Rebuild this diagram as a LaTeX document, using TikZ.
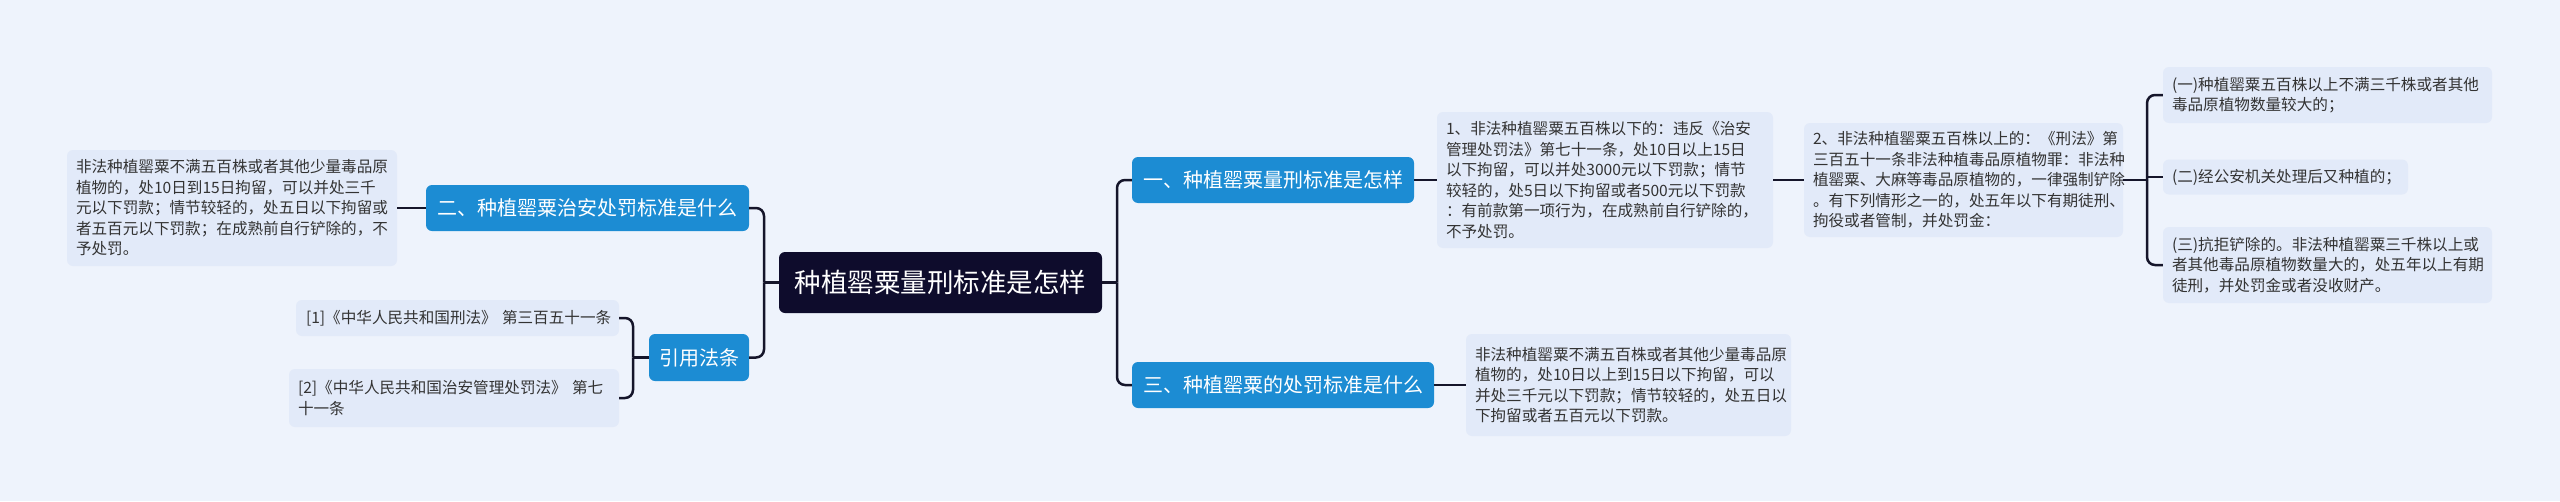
\documentclass[tikz,border=0pt]{standalone}
\usepackage{fontspec}
\newfontfamily\cjk{Noto Sans CJK SC}
\definecolor{bgc}{HTML}{EEF3FC}
\definecolor{leafc}{HTML}{E2EAF9}
\definecolor{brc}{HTML}{1C8CD3}
\definecolor{rootc}{HTML}{0E0C2C}
\definecolor{txtc}{HTML}{333333}
\definecolor{linec}{HTML}{15152A}
\tikzset{
  leaf/.style={fill=leafc, rounded corners=6pt, text=txtc, align=left, inner xsep=9pt, inner ysep=0pt,
    font=\cjk\fontsize{15.6}{20.5}\selectfont, anchor=center},
  branch/.style={fill=brc, rounded corners=6pt, text=white, align=center, inner sep=0pt,
    font=\cjk\fontsize{20}{24}\selectfont, anchor=center},
  rootbox/.style={fill=rootc, rounded corners=6pt, text=white, align=center, inner sep=0pt,
    font=\cjk\fontsize{26.5}{30}\selectfont, anchor=center},
  conn/.style={draw=linec, line width=2.5pt, rounded corners=8pt}
}
\begin{document}
\begin{tikzpicture}[x=1pt,y=-1pt]
\fill[bgc] (0,0) rectangle (2560,501);
\useasboundingbox (0,0) rectangle (2560,501);

% root
\node[rootbox, minimum width=323pt, minimum height=61pt] (root) at (940.5,282.5) {种植罂粟量刑标准是怎样};

% branches
\node[branch, minimum width=323pt, minimum height=46pt] (b2) at (587.5,208) {二、种植罂粟治安处罚标准是什么};
\node[branch, minimum width=100pt, minimum height=47pt] (bref) at (699,357.5) {引用法条};
\node[branch, minimum width=282pt, minimum height=46pt] (b1) at (1273,180) {一、种植罂粟量刑标准是怎样};
\node[branch, minimum width=302pt, minimum height=46pt] (b3) at (1283,385) {三、种植罂粟的处罚标准是什么};

% leaves
\node[leaf, text width=312pt, minimum height=116pt] (leafL) at (232,208) {非法种植罂粟不满五百株或者其他少量毒品原\\植物的，处10日到15日拘留，可以并处三千\\元以下罚款；情节较轻的，处五日以下拘留或\\者五百元以下罚款；在成熟前自行铲除的，不\\予处罚。};
\node[leaf, text width=305pt, minimum height=36pt] (ref1) at (457.5,318) {\hspace*{1pt}\mbox{[1]《中华人民共和国刑法》 第三百五十一条}};
\node[leaf, text width=312pt, minimum height=58pt] (ref2) at (454,398) {[2]《中华人民共和国治安管理处罚法》 第七\\十一条};
\node[leaf, text width=318pt, minimum height=136pt] (leaf1) at (1605,180) {1、非法种植罂粟五百株以下的：违反《治安\\管理处罚法》第七十一条，处10日以上15日\\以下拘留，可以并处3000元以下罚款；情节\\较轻的，处5日以下拘留或者500元以下罚款\\：有前款第一项行为，在成熟前自行铲除的，\\不予处罚。};
\node[leaf, text width=301pt, minimum height=114pt] (leaf2) at (1963.5,180) {2、非法种植罂粟五百株以上的：《刑法》第\\三百五十一条非法种植毒品原植物罪：非法种\\植罂粟、大麻等毒品原植物的，一律强制铲除\\。有下列情形之一的，处五年以下有期徒刑、\\拘役或者管制，并处罚金：};
\node[leaf, text width=311pt, minimum height=56pt] (c1) at (2327.5,95) {(一)种植罂粟五百株以上不满三千株或者其他\\毒品原植物数量较大的；};
\node[leaf, text width=227pt, minimum height=35pt] (c2) at (2285.5,177) {(二)经公安机关处理后又种植的；};
\node[leaf, text width=311pt, minimum height=76pt] (c3) at (2327.5,265) {(三)抗拒铲除的。非法种植罂粟三千株以上或\\者其他毒品原植物数量大的，处五年以上有期\\徒刑，并处罚金或者没收财产。};
\node[leaf, text width=307pt, minimum height=102pt] (leaf3) at (1628.5,385) {非法种植罂粟不满五百株或者其他少量毒品原\\植物的，处10日以上到15日以下拘留，可以\\并处三千元以下罚款；情节较轻的，处五日以\\下拘留或者五百元以下罚款。};

% junctions
\coordinate (jr) at (1117,282.5);
\coordinate (jl) at (764,282.5);
\coordinate (jref) at (633,357.5);
\coordinate (jc) at (2147,180);

% connectors
\draw[conn] (root.east) -- (jr);
\draw[conn] (jr) |- (b1.west);
\draw[conn] (jr) |- (b3.west);
\draw[conn] (root.west) -- (jl);
\draw[conn] (jl) |- (b2.east);
\draw[conn] (jl) |- (bref.east);
\draw[conn] (b2.west) -- (leafL.east);
\draw[conn] (bref.west) -- (jref);
\draw[conn] (jref) |- (ref1.east);
\draw[conn] (jref) |- (ref2.east);
\draw[conn] (b1.east) -- (leaf1.west);
\draw[conn] (leaf1.east) -- (leaf2.west);
\draw[conn] (b3.east) -- (leaf3.west);
\draw[conn] (leaf2.east) -- (jc);
\draw[conn] (jc) |- (c1.west);
\draw[conn] (jc) |- (c3.west);
\draw[conn] (jc |- c2.west) -- (c2.west);
\end{tikzpicture}
\end{document}
